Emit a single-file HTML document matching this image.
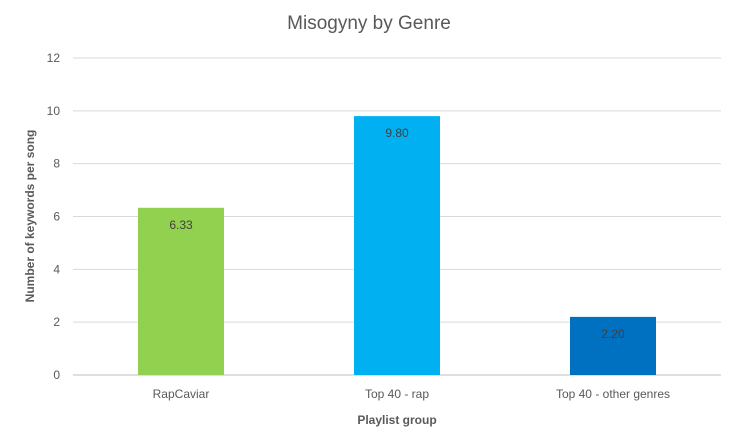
<!DOCTYPE html>
<html><head><meta charset="utf-8"><style>
body{margin:0;background:#fff;}
svg{display:block;font-family:"Liberation Sans",sans-serif;}
</style></head><body>
<svg id="chart" width="738" height="446" viewBox="0 0 738 446">
<rect width="738" height="446" fill="#fff"/>
<text x="369" y="29" text-anchor="middle" font-size="19" fill="#595959">Misogyny by Genre</text>
<g id="grid"></g><g id="bars"></g><g id="labels"></g>
<text transform="translate(34,216) rotate(-90)" text-anchor="middle" font-size="12" font-weight="bold" fill="#595959">Number of keywords per song</text>
<text x="397" y="424" text-anchor="middle" font-size="12" font-weight="bold" fill="#595959">Playlist group</text>
</svg>
<script>
const categories=["RapCaviar","Top 40 - rap","Top 40 - other genres"];
const values=[6.33,9.80,2.20];
const valueLabels=["6.33","9.80","2.20"];
const yTicks=[0,2,4,6,8,10,12];
const colors=["#92d050","#00b0f0","#0070c0"];
const NS="http://www.w3.org/2000/svg";
const x0=73,x1=721,yTop=58,yBot=375,yMax=12;
const y=v=>yBot-(v/yMax)*(yBot-yTop);
const slot=(x1-x0)/categories.length;
const xc=i=>x0+slot*(i+0.5);
function mk(t,a,p){const e=document.createElementNS(NS,t);for(const k in a)e.setAttribute(k,a[k]);p.appendChild(e);return e;}
const g=document.getElementById('grid'),b=document.getElementById('bars'),l=document.getElementById('labels');
yTicks.forEach(t=>{
 const ln=mk('line',{x1:x0,x2:x1,y1:y(t),y2:y(t),stroke:t===0?'#bfbfbf':'#d9d9d9','stroke-width':1},g);
 
 
 const tx=mk('text',{x:60,y:y(t)+4,'text-anchor':'end','font-size':12,fill:'#595959'},g);
 tx.textContent=t;
 
 
});
categories.forEach((c,i)=>{
 const w=86;
 const r=mk('rect',{x:xc(i)-w/2,y:y(values[i]),width:w,height:yBot-y(values[i]),fill:colors[i]},b);
 
 
 const vt=mk('text',{x:xc(i),y:y(values[i])+21,'text-anchor':'middle','font-size':12,fill:'#404040'},l);
 vt.textContent=valueLabels[i];
 
 
 const ct=mk('text',{x:xc(i),y:398,'text-anchor':'middle','font-size':12,fill:'#595959'},l);
 ct.textContent=c;
 
 
});
</script>
</body></html>
